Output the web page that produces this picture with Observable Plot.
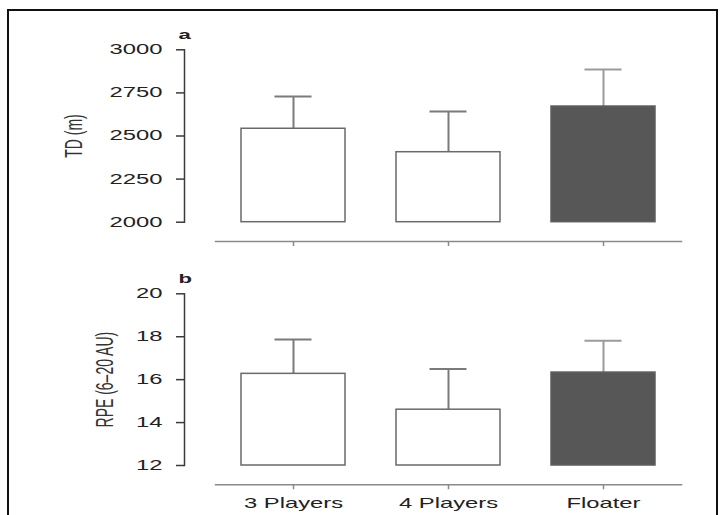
<!DOCTYPE html>
<html><head><meta charset="utf-8">
<script src="https://cdn.jsdelivr.net/npm/d3@7"></script>
<script src="https://cdn.jsdelivr.net/npm/@observablehq/plot@0.6"></script>
<style>
body{margin:0;background:#fff;}
#wrap{position:relative;width:723px;height:515px;overflow:hidden;background:#fff;font-family:"Liberation Sans",Arial,sans-serif;}
#border{position:absolute;left:7px;top:9px;width:711px;height:600px;border:2px solid #111;box-sizing:border-box;}
#pa{position:absolute;left:0;top:0;}
#pb{position:absolute;left:0;top:250px;}
</style></head><body>
<div id="wrap"><div id="border"></div><div id="pa"></div><div id="pb"></div></div>
<script>
// ---- data ----
const categories = ["3 Players", "4 Players", "Floater"];
const tdMean = [2542, 2406, 2671];
const tdSD = [187, 236, 215];
const rpeMean = [16.27, 14.6, 16.33];
const rpeSD = [1.6, 1.9, 1.48];
const tdTicks = [2000, 2250, 2500, 2750, 3000];
const rpeTicks = [12, 14, 16, 18, 20];
const panelLabels = ["a", "b"];
const yTitles = ["TD (m)", "RPE (6–20 AU)"];

const FONT = "Liberation Sans, Arial, sans-serif";
const STRETCH = 1.7;

function stretchText(svg) {
  svg.querySelectorAll("text").forEach(t => {
    const tr = t.getAttribute("transform") || "";
    t.setAttribute("transform", tr + (tr.includes("rotate") ? ` scale(1,${STRETCH})` : ` scale(${STRETCH},1)`));
  });
}

function panel({mean, sd, ticks, label, title, height, marginTop, marginBottom, showX, titleX}) {
  const data = categories.map((c, i) => ({cat: c, mean: mean[i], hi: mean[i] + sd[i]}));
  const lo = ticks[0], hiT = ticks[ticks.length - 1];
  const isDark = d => d.cat === "Floater";
  const errColor = d => isDark(d) ? "#9b9b9b" : "#7a7a7a";
  const svg = Plot.plot({
    width: 723, height, marginTop, marginBottom, marginLeft: 184, marginRight: 42,
    style: {fontFamily: FONT, fontSize: "14px", color: "#222", background: "transparent", overflow: "visible"},
    x: {domain: categories, paddingInner: 0.33, paddingOuter: 0.165, insetLeft: 31, label: null},
    y: {domain: [lo, hiT], insetBottom: 19.3, label: null},
    marks: [
      Plot.frame({anchor: "left", insetBottom: 19.3, stroke: "#3a3a3a", strokeWidth: 1.5}),
      Plot.frame({anchor: "bottom", insetLeft: 31, stroke: "#8a8a8a", strokeWidth: 1.5}),
      Plot.axisY({ticks, tickSize: 8, tickPadding: 14, stroke: "#3a3a3a", strokeWidth: 1.5, fill: "#222", fontSize: 14, label: null, tickFormat: d => String(d)}),
      Plot.axisX({tickSize: 5, tickPadding: 8.7, stroke: "#8a8a8a", strokeWidth: 1.5, fill: "#222", fontSize: 14, label: null, tickFormat: showX ? d => d : () => ""}),
      Plot.ruleX(data, {x: "cat", y1: "mean", y2: "hi", stroke: errColor, strokeWidth: 2}),
      Plot.tickY(data, {x: "cat", y: "hi", insetLeft: 33.5, insetRight: 33.5, stroke: errColor, strokeWidth: 2}),
      Plot.barY(data, {x: "cat", y1: lo, y2: "mean", fill: d => isDark(d) ? "#575757" : "#ffffff", stroke: d => isDark(d) ? "#5e5e5e" : "#6a6a6a", strokeWidth: 1.5}),
      Plot.text([title], {frameAnchor: "left", y: (lo + hiT) / 2, dx: titleX - 184, rotate: -90, fontSize: 14, fill: "#333", textAnchor: "middle", lineAnchor: "middle"}),
      Plot.text([label], {frameAnchor: "top-left", dx: -6, dy: -20.3, lineAnchor: "top", textAnchor: "start", fontWeight: "bold", fontSize: 13, fill: "#222"})
    ]
  });
  stretchText(svg);
  return svg;
}

document.getElementById("pa").appendChild(panel({
  mean: tdMean, sd: tdSD, ticks: tdTicks, label: panelLabels[0], title: yTitles[0],
  height: 250, marginTop: 49.3, marginBottom: 9, showX: false, titleX: 74
}));
document.getElementById("pb").appendChild(panel({
  mean: rpeMean, sd: rpeSD, ticks: rpeTicks, label: panelLabels[1], title: yTitles[1],
  height: 265, marginTop: 43.3, marginBottom: 30.7, showX: true, titleX: 105
}));
</script>
</body></html>
